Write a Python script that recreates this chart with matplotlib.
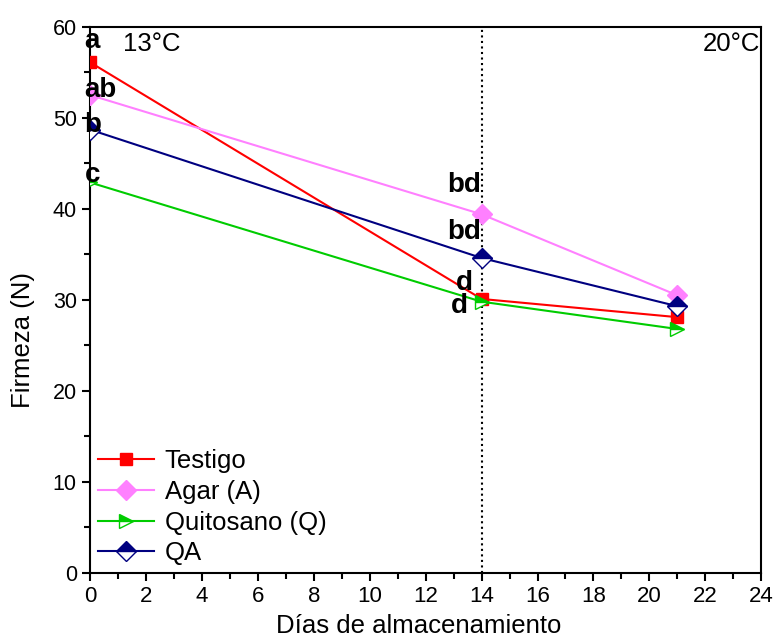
import matplotlib.pyplot as plt

plt.rcParams['font.family'] = ['Liberation Sans', 'DejaVu Sans']

# storage days and firmness values
dias = [0, 14, 21]
testigo = [56.1, 30.1, 28.1]
agar = [52.5, 39.4, 30.5]
quitosano = [42.9, 29.8, 26.8]
qa = [48.7, 34.6, 29.3]
series_names = ['Testigo', 'Agar (A)', 'Quitosano (Q)', 'QA']

# significance letters: (text, x, y)
letras = [('a', -0.2, 58.4), ('ab', -0.2, 53.1), ('b', -0.2, 49.2), ('c', -0.2, 43.7),
          ('bd', 14.0, 42.6), ('bd', 14.0, 37.4), ('d', 13.4, 31.9), ('d', 13.2, 29.3)]

fig = plt.figure(figsize=(7.76, 6.37), dpi=100)
ax = fig.add_axes([0.116, 0.1005, 0.865, 0.8575])

ax.plot(dias, testigo, color='#FF0000', lw=1.5, marker='s', ms=8, label=series_names[0], zorder=3)
ax.plot(dias, agar, color='#FF80FF', lw=1.5, marker='D', ms=10.5, label=series_names[1], zorder=3)
ax.plot(dias, quitosano, color='#00CC00', lw=1.5, marker='>', ms=10, fillstyle='top',
        markerfacecoloralt='white', label=series_names[2], zorder=3)
ax.plot(dias, qa, color='#000080', lw=1.5, marker='D', ms=10, fillstyle='top',
        markerfacecoloralt='white', label=series_names[3], zorder=3)

ax.axvline(14, color='black', ls=':', lw=1.5, zorder=2)

for txt, x, y in letras:
    ha = 'left' if x < 1 else ('right' if txt == 'bd' else 'center')
    ax.text(x, y, txt, fontsize=20, fontweight='bold', ha=ha, va='center', zorder=4)

ax.text(1.18, 58.1, '13°C', fontsize=18.5, ha='left', va='center')
ax.text(23.95, 58.1, '20°C', fontsize=18.5, ha='right', va='center')

ax.set_xlim(0, 24)
ax.set_ylim(0, 60)
ax.set_xticks(range(0, 25, 2))
ax.set_xticks(range(1, 24, 2), minor=True)
ax.set_yticks(range(0, 61, 10))
ax.set_yticks(range(5, 60, 10), minor=True)
ax.tick_params(labelsize=15.5, width=1.5, length=6)
ax.tick_params(axis='x', labelsize=16)
ax.tick_params(which='minor', width=1.5, length=4)
for s in ax.spines.values():
    s.set_linewidth(1.5)

ax.set_xlabel('Días de almacenamiento', fontsize=18.5)
ax.xaxis.set_label_coords(0.489, -0.075)
ax.set_ylabel('Firmeza (N)', fontsize=18.5)
ax.yaxis.set_label_coords(-0.082, 0.427)

ax.legend(loc='lower left', frameon=False, fontsize=18.5, handlelength=2.2,
          handletextpad=0.4, borderaxespad=0.2, borderpad=0.1, labelspacing=0.26)

fig.savefig('out.png', dpi=100)
